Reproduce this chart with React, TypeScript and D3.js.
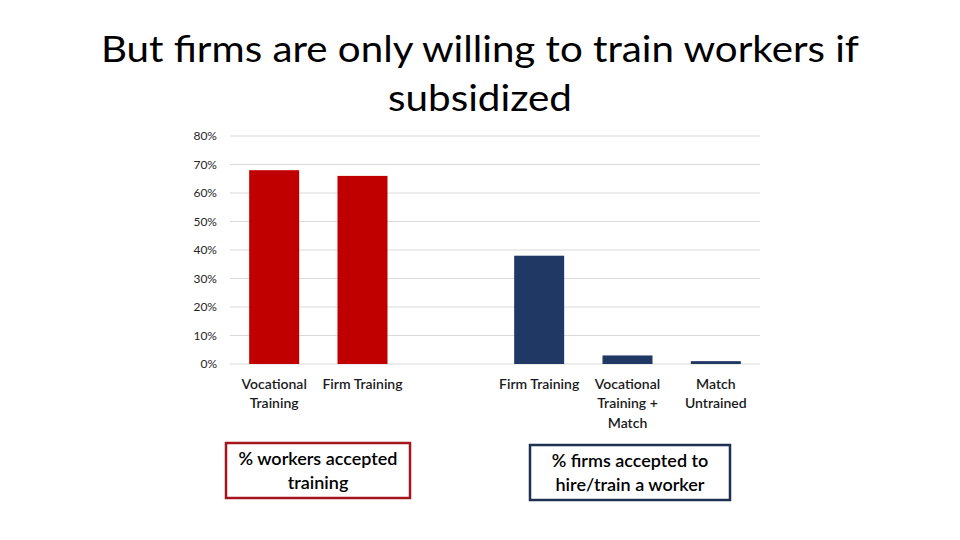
import React from "react";
import * as d3 from "d3";

const categories = ["Vocational\nTraining", "Firm Training", "", "Firm Training", "Vocational\nTraining +\nMatch", "Match\nUntrained"];
const values: (number | null)[] = [0.68, 0.66, null, 0.38, 0.03, 0.01];
const groups = ["workers", "workers", "", "firms", "firms", "firms"];
const yTicks = [0, 0.1, 0.2, 0.3, 0.4, 0.5, 0.6, 0.7, 0.8];
const titleLines = ["But firms are only willing to train workers if", "subsidized"];
const boxLeft = ["% workers accepted", "training"];
const boxRight = ["% firms accepted to", "hire/train a worker"];

const RED = "#C00000";
const NAVY = "#203864";
const FONT = "Lato, 'Open Sans', sans-serif";

export default function App() {
  const W = 960, H = 540;
  const left = 230, right = 760, top = 136, bottom = 364;
  const x = d3.scaleBand<number>().domain(d3.range(categories.length)).range([left, right]).paddingInner(0.434).paddingOuter(0.217);
  const y = d3.scaleLinear().domain([0, 0.8]).range([bottom, top]);
  const pct = d3.format(".0%");

  return (
    <svg width={W} height={H} style={{ position: "absolute", left: 0, top: 0, background: "#fff" }}>
      <text x={480} y={62} textAnchor="middle" fontFamily={FONT} fontSize={37} fill="#000" textLength={758} lengthAdjust="spacingAndGlyphs">{titleLines[0]}</text>
      <text x={480} y={111} textAnchor="middle" fontFamily={FONT} fontSize={37} fill="#000" textLength={184} lengthAdjust="spacingAndGlyphs">{titleLines[1]}</text>

      {yTicks.map((t) => (
        <g key={t}>
          <line x1={left} x2={right} y1={y(t)} y2={y(t)} stroke="#d9d9d9" strokeWidth={1} />
          <text x={217} y={y(t)} dy="0.35em" textAnchor="end" fontFamily={FONT} fontSize={12} fill="#262626">{pct(t)}</text>
        </g>
      ))}

      {values.map((v, i) =>
        v == null ? null : (
          <rect key={i} x={x(i)} width={x.bandwidth()} y={y(v)} height={bottom - y(v)} fill={groups[i] === "workers" ? RED : NAVY} />
        )
      )}

      {categories.map((c, i) =>
        c.split("\n").map((line, j) => (
          <text key={i + "-" + j} x={(x(i) as number) + x.bandwidth() / 2} y={384 + j * 19.5} dy="0.35em" textAnchor="middle" fontFamily={FONT} fontSize={14} fontWeight={600} fill="#1a1a1a">{line}</text>
        ))
      )}

      <rect x={226} y={443} width={184} height={55} fill="#fff" stroke="#A5161C" strokeWidth={2.5} />
      {boxLeft.map((l, j) => (
        <text key={"bl" + j} x={318} y={459 + j * 24} dy="0.35em" textAnchor="middle" fontFamily={FONT} fontSize={18} fontWeight={600} fill="#000">{l}</text>
      ))}
      <rect x={530} y={445} width={200} height={55} fill="#fff" stroke="#1F3050" strokeWidth={2.5} />
      {boxRight.map((l, j) => (
        <text key={"br" + j} x={630} y={461 + j * 24} dy="0.35em" textAnchor="middle" fontFamily={FONT} fontSize={18} fontWeight={600} fill="#000">{l}</text>
      ))}
    </svg>
  );
}
